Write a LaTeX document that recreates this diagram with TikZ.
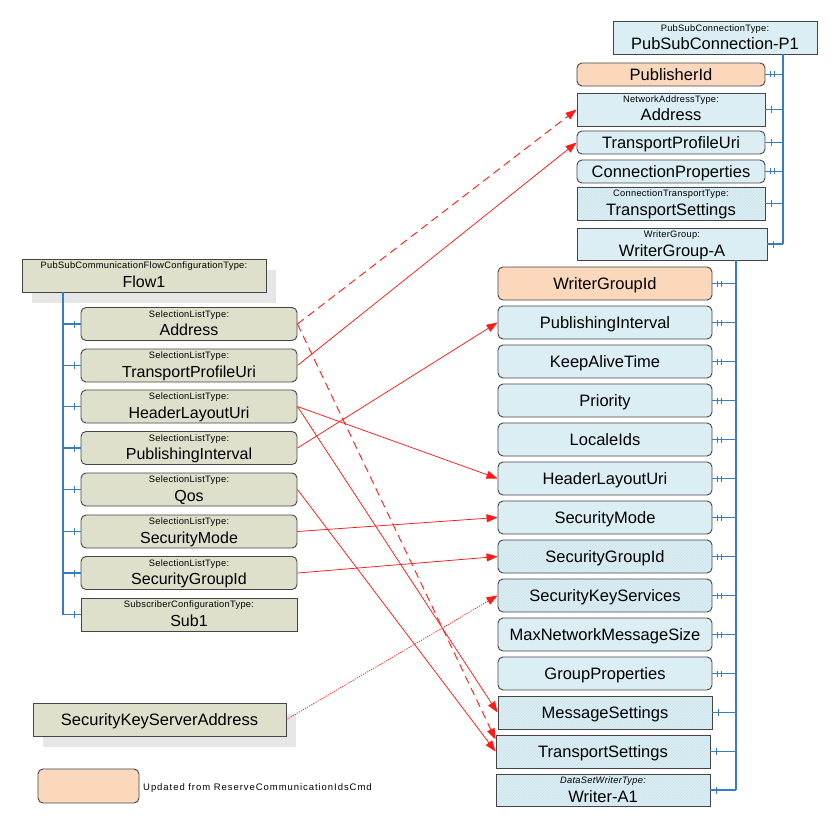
\documentclass[tikz,border=0pt]{standalone}
\usepackage{fontspec}
\setmainfont{Liberation Sans}
\usetikzlibrary{arrows.meta,patterns,decorations.markings,calc}
\definecolor{beigec}{HTML}{DEE0CC}
\definecolor{bluec}{HTML}{DBEEF4}
\definecolor{orangec}{HTML}{FBD8BC}
\definecolor{bordc}{HTML}{454545}
\definecolor{shadowc}{HTML}{E6E6E6}
\definecolor{hatchc}{HTML}{CBE2EB}
\definecolor{trunkc}{HTML}{3A7CC2}
\definecolor{redc}{HTML}{FF1A1A}
\newcommand\labfont{\fontsize{9.3}{10}\selectfont\addfontfeature{LetterSpace=3}}
\begin{document}
\begin{tikzpicture}[x=1pt,y=-1pt,
  box/.style={draw=bordc, line width=0.9pt, inner sep=0pt, text=black},
  one/.style={text height=14pt, text depth=2pt},
  two/.style={text height=28pt, text depth=5pt},
  rbox/.style={box, rounded corners=5pt},
  lcol/.style={minimum width=216pt, minimum height=33pt, font=\fontsize{16}{17}\selectfont},
  rcol/.style={minimum width=214pt, minimum height=33pt, font=\fontsize{16.5}{17}\selectfont},
  tcol/.style={minimum width=188pt, font=\fontsize{16.5}{17}\selectfont},
  bei/.style={fill=beigec},
  blu/.style={fill=bluec},
  org/.style={fill=orangec},
  hatch/.style={preaction={fill=bluec}, pattern=north east lines, pattern color=hatchc},
  shad/.style={preaction={fill=shadowc, transform canvas={xshift=10pt,yshift=-11pt}}},
  lab/.style={anchor=base, yshift=-10pt, inner sep=0pt, font=\labfont},
  trunk/.style={draw=trunkc, line width=1.1pt},
  tickone/.style={postaction={decorate,decoration={markings,
      mark=at position 6pt with {\draw[trunkc,line width=0.8pt] (0,-3.5pt) -- (0,3.5pt);}}}},
  ticktwo/.style={postaction={decorate,decoration={markings,
      mark=at position 5pt with {\draw[trunkc,line width=0.7pt] (0,-3pt) -- (0,3pt);},
      mark=at position 8.5pt with {\draw[trunkc,line width=0.7pt] (0,-3pt) -- (0,3pt);}}}},
  arr/.style={draw=redc, line width=0.75pt, -{Triangle[length=11pt,width=8pt]}},
  dsh/.style={arr, line width=0.9pt, dash pattern=on 8pt off 5pt},
  dtt/.style={arr, dash pattern=on 1.2pt off 1.2pt}
]
\useasboundingbox (0,0) rectangle (840,829);

% ---------- top right: connection ----------
\node[box, blu, two, minimum width=204pt, minimum height=32pt, font=\fontsize{16.5}{17}\selectfont,
  label={[lab]north:{PubSubConnectionType:}}] (psc) at (715,38) {PubSubConnection-P1};
\node[rbox, org, one, tcol, minimum height=23pt] (pid) at (671,74.5) {PublisherId};
\node[box, blu, two, tcol, minimum height=33pt,
  label={[lab]north:{NetworkAddressType:}}] (addrT) at (671,109.5) {Address};
\node[rbox, blu, one, tcol, minimum height=23pt] (tpuT) at (671,142.5) {TransportProfileUri};
\node[rbox, blu, one, tcol, minimum height=23pt] (cpT) at (671,171.5) {ConnectionProperties};
\node[box, hatch, two, tcol, minimum height=33pt,
  label={[lab]north:{ConnectionTransportType:}}] (tsT) at (671,203.5) {TransportSettings};
\node[box, blu, two, tcol, minimum width=190pt, minimum height=32pt, text depth=4pt,
  label={[lab]north:{WriterGroup:}}] (wga) at (672,244) {WriterGroup-A};

\coordinate (trT) at (783,54);
\draw[trunk] (trT) -- (trT |- wga.east);
\draw[trunk, ticktwo] (pid.east) -- (pid.east -| trT);
\draw[trunk, tickone] (addrT.east) -- (addrT.east -| trT);
\draw[trunk, tickone] (tpuT.east) -- (tpuT.east -| trT);
\draw[trunk, ticktwo] (cpT.east) -- (cpT.east -| trT);
\draw[trunk, tickone] (tsT.east) -- (tsT.east -| trT);
\draw[trunk, tickone] (wga.east) -- (wga.east -| trT);

% ---------- right column: writer group ----------
\node[rbox, org, one, rcol] (wgid) at (605,283.5) {WriterGroupId};
\node[rbox, blu, one, rcol] (piR) at (605,322.5) {PublishingInterval};
\node[rbox, blu, one, rcol] (katR) at (605,361.5) {KeepAliveTime};
\node[rbox, blu, one, rcol] (priR) at (605,400.5) {Priority};
\node[rbox, blu, one, rcol] (liR) at (605,439.5) {LocaleIds};
\node[rbox, blu, one, rcol] (hluR) at (605,478.5) {HeaderLayoutUri};
\node[rbox, blu, one, rcol] (smR) at (605,517.5) {SecurityMode};
\node[rbox, hatch, one, rcol] (sgiR) at (605,556.5) {SecurityGroupId};
\node[rbox, hatch, one, rcol] (sksR) at (605,595.5) {SecurityKeyServices};
\node[rbox, blu, one, rcol] (mnmR) at (605,634.5) {MaxNetworkMessageSize};
\node[rbox, blu, one, rcol] (gpR) at (605,673.5) {GroupProperties};
\node[box, hatch, one, rcol] (msR) at (605,712.5) {MessageSettings};
\node[box, hatch, one, rcol] (tsR) at (603,751.5) {TransportSettings};
\node[box, hatch, two, rcol, minimum height=32pt, text depth=4pt,
  label={[lab, font=\labfont\itshape]north:{DataSetWriterType:}}] (wa1) at (603,790) {Writer-A1};

\coordinate (trR) at (736,260);
\draw[trunk] (trR) -- (trR |- wa1.east);
\foreach \n in {wgid,piR,katR,priR,liR,hluR,smR,sgiR,sksR,mnmR,gpR}
  \draw[trunk, ticktwo] (\n.east) -- (\n.east -| trR);
\foreach \n in {msR,tsR,wa1}
  \draw[trunk, tickone] (\n.east) -- (\n.east -| trR);

% ---------- left: flow ----------
\node[box, bei, shad, two, minimum width=244pt, minimum height=33pt, font=\fontsize{16}{17}\selectfont,
  label={[lab]north:{PubSubCommunicationFlowConfigurationType:}}] (flow) at (144,275.5) {Flow1};
\node[rbox, bei, two, lcol, label={[lab]north:{SelectionListType:}}] (addrL) at (189,324) {Address};
\node[rbox, bei, two, lcol, label={[lab]north:{SelectionListType:}}] (tpuL) at (189,365.5) {TransportProfileUri};
\node[rbox, bei, two, lcol, label={[lab]north:{SelectionListType:}}] (hluL) at (189,406.5) {HeaderLayoutUri};
\node[rbox, bei, two, lcol, label={[lab]north:{SelectionListType:}}] (piL) at (189,448) {PublishingInterval};
\node[rbox, bei, two, lcol, label={[lab]north:{SelectionListType:}}] (qosL) at (189,489.5) {Qos};
\node[rbox, bei, two, lcol, label={[lab]north:{SelectionListType:}}] (smL) at (189,531.5) {SecurityMode};
\node[rbox, bei, two, lcol, label={[lab]north:{SelectionListType:}}] (sgiL) at (189,573) {SecurityGroupId};
\node[box, bei, two, lcol, label={[lab]north:{SubscriberConfigurationType:}}] (sub1) at (189,614.5) {Sub1};

\coordinate (trL) at (63,292);
\draw[trunk] (trL) -- (trL |- sub1.west);
\foreach \n in {addrL,tpuL,hluL,piL,qosL,smL,sgiL,sub1}
  \draw[trunk, tickone] (\n.west) -- (\n.west -| trL);

% ---------- security key server + legend ----------
\node[box, bei, shad, one, minimum width=253pt, minimum height=33pt, font=\fontsize{16.5}{17}\selectfont] (sksa) at (159.5,719.5) {SecurityKeyServerAddress};
\node[rbox, org, minimum width=101pt, minimum height=34pt] (leg) at (88.5,786) {};
\node[anchor=west, inner sep=0pt, font=\fontsize{9.5}{10}\selectfont\addfontfeature{LetterSpace=10}] (legtxt) at (143,788) {Updated from ReserveCommunicationIdsCmd};

% ---------- mappings ----------
\draw[dsh] (addrL.east) -- (addrT.west);
\draw[dsh] (addrL.east) -- ([yshift=12pt]tsR.west);
\draw[arr] (tpuL.east) -- (tpuT.west);
\draw[arr] (hluL.east) -- (hluR.west);
\draw[arr] (hluL.east) -- (msR.west);
\draw[arr] (piL.east) -- (piR.west);
\draw[arr] (qosL.east) -- (tsR.west);
\draw[arr] (smL.east) -- (smR.west);
\draw[arr] (sgiL.east) -- (sgiR.west);
\draw[dtt] (sksa.east) -- (sksR.west);
\end{tikzpicture}
\end{document}
